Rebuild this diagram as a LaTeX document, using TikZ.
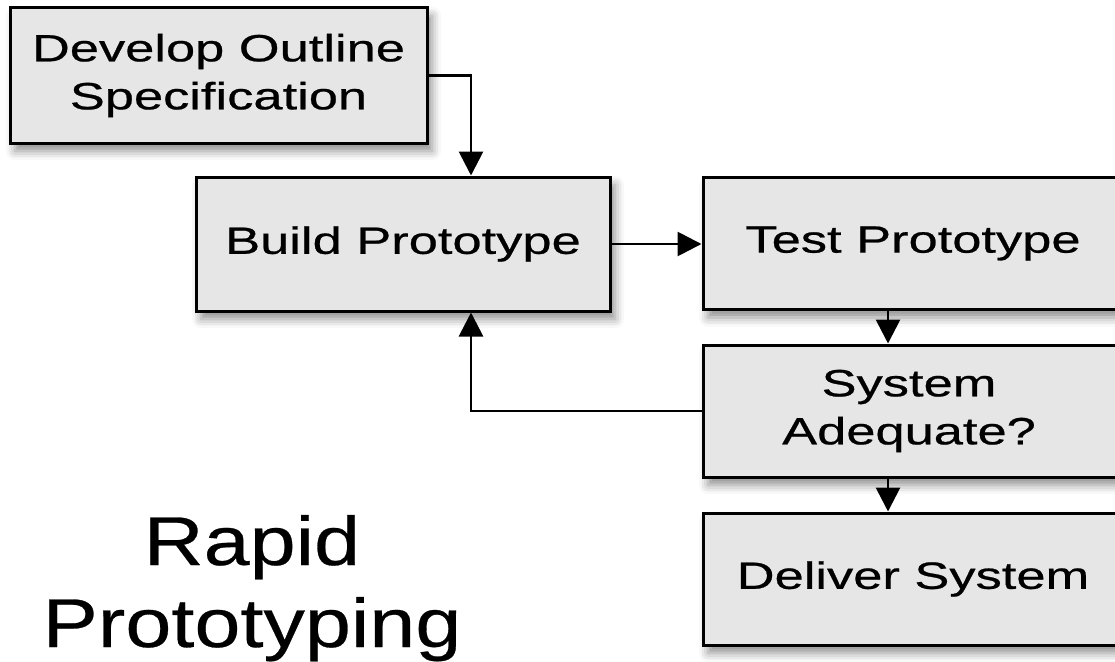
\documentclass[tikz,border=0pt]{standalone}
\usepackage{fontspec}
\setmainfont{Liberation Sans}
\newfontfamily\boxfont[FakeStretch=1.38,FakeBold=0.6]{Liberation Sans}
\newfontfamily\titlefont[FakeStretch=1.2,FakeBold=0.4]{Liberation Sans}
\usetikzlibrary{arrows.meta,shadows.blur}
\definecolor{boxgray}{HTML}{E6E6E6}
\tikzset{
  stepbox/.style={draw=black, line width=3pt, fill=boxgray,
    blur shadow={shadow xshift=5pt, shadow yshift=-8pt, shadow blur radius=9pt, shadow opacity=45},
    inner sep=0pt, align=center,
    font=\boxfont\fontsize{38}{48}\selectfont},
  conn/.style={line width=2.8pt, -{Triangle[width=24pt,length=24pt]}},
}
\begin{document}
\begin{tikzpicture}[x=1pt,y=-1pt]
\useasboundingbox (0,0) rectangle (1115,661);
\clip (0,0) rectangle (1115,661);
\node[stepbox, minimum width=417pt, minimum height=135pt] (dev) at (218.5,75.5) {Develop Outline\\Specification};
\node[stepbox, minimum width=414pt, minimum height=134pt] (build) at (403,244) {Build Prototype};
\node[stepbox, minimum width=420pt, minimum height=132pt] (test) at (913,243.5) {Test Prototype};
\node[stepbox, minimum width=420pt, minimum height=132pt] (sys) at (913,411) {\hspace*{-8pt}System\\\hspace*{-8pt}Adequate?};
\node[stepbox, minimum width=420pt, minimum height=132pt] (del) at (913,579) {Deliver System};
\draw[conn] ([xshift=-25pt]test.south) -- ([xshift=-25pt]sys.north);
\draw[conn] ([xshift=-25pt]sys.south) -- ([xshift=-25pt]del.north);
\draw[conn] (dev.east) -| ([xshift=68pt]build.north);
\draw[conn] (build.east) -- (build.east -| test.west);
\draw[conn] (sys.west) -| ([xshift=68pt]build.south);
\node[align=center, font=\titlefont\fontsize{69}{82}\selectfont, anchor=base] (title) at (252,647) {Rapid\\Prototyping};
\end{tikzpicture}
\end{document}
